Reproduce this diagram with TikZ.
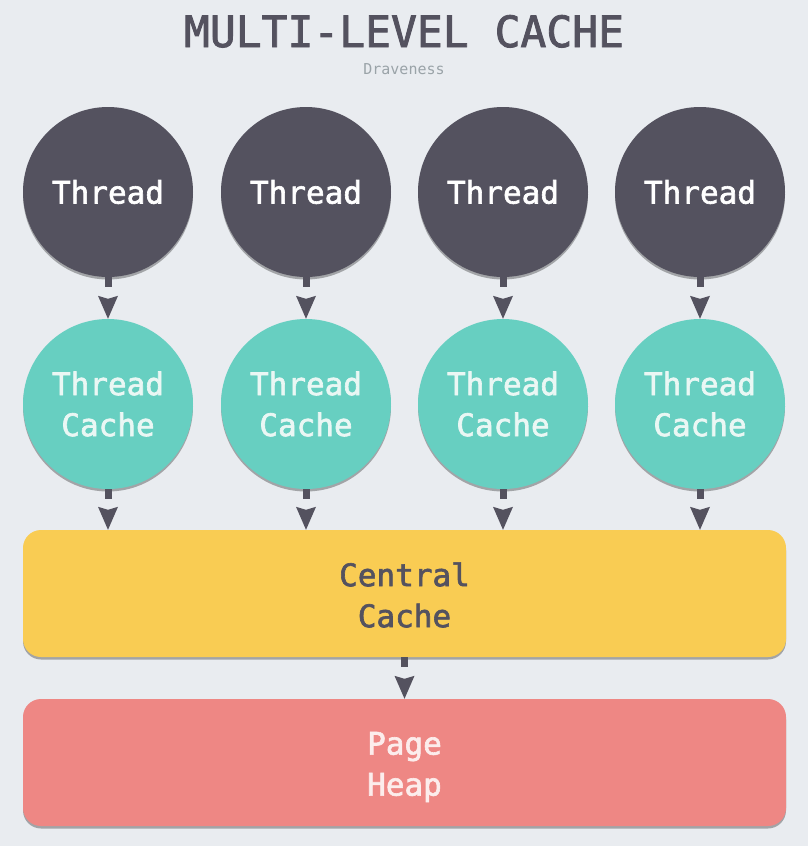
\documentclass[tikz,border=0pt]{standalone}
\usepackage{fontspec}
\setmonofont{DejaVu Sans Mono}[BoldFont=DejaVu Sans Mono, BoldFeatures={FakeBold=2}]
\usetikzlibrary{arrows.meta,shadows}

\definecolor{bgcol}{HTML}{E9ECF0}
\definecolor{inkcol}{HTML}{54525F}
\definecolor{tealcol}{HTML}{67CFC1}
\definecolor{yellowcol}{HTML}{F9CC53}
\definecolor{redcol}{HTML}{EE8784}
\definecolor{subcol}{HTML}{9AA3A8}
\definecolor{tealtext}{HTML}{EAF7F4}
\definecolor{redtext}{HTML}{FCEDEC}

\tikzset{
  softshadow/.style={drop shadow={shadow xshift=0pt, shadow yshift=-2.5pt, opacity=0.3, fill=black}},
  label/.style={font=\ttfamily\bfseries\fontsize{31}{41}\selectfont, align=center, inner sep=0pt},
  threadnode/.style={circle, minimum size=170pt, fill=inkcol, text=white, label, softshadow},
  cachenode/.style={circle, minimum size=170pt, fill=tealcol, text=tealtext, label, softshadow},
  boxnode/.style={rounded corners=18pt, minimum width=763pt, minimum height=127pt, softshadow},
  boxtext/.style={label},
  flow/.style={draw=inkcol, line width=7pt, dash pattern=on 10pt off 40pt,
    -{Stealth[length=23pt, width=20pt, inset=3pt, line width=0pt]}},
}

\begin{document}
\begin{tikzpicture}[x=1pt, y=-1pt]
  \fill[bgcol] (0,0) rectangle (808,846);
  \useasboundingbox (0,0) rectangle (808,846);

  \node[anchor=base, text=inkcol, font=\ttfamily\bfseries\fontsize{43}{43}\selectfont, inner sep=0pt]
    (title) at (404,47) {MULTI-LEVEL CACHE};
  \node[anchor=base, text=subcol, font=\ttfamily\fontsize{15}{15}\selectfont, inner sep=0pt]
    (author) at (404,74) {Draveness};

  % threads and their caches
  \foreach \i/\x in {1/108, 2/306, 3/503, 4/700} {
    \node[threadnode] (t\i) at (\x,192) {Thread};
    \node[cachenode] (c\i) at (\x,404) {Thread\\Cache};
  }

  \node[boxnode, fill=yellowcol] (central) at (404.5,593.5) {};
  \node[boxtext, text=inkcol] (centraltext) at (404.5,595) {Central\\Cache};
  \node[boxnode, fill=redcol] (heap) at (404.5,762.5) {};
  \node[boxtext, text=redtext] (heaptext) at (404.5,767) {Page\\Heap};

  \foreach \i in {1,...,4} {
    \draw[flow] (t\i.south) -- (c\i.north);
    \draw[flow] (c\i.south) -- (c\i.south |- central.north);
  }
  \draw[flow] (central.south) -- (heap.north);
\end{tikzpicture}
\end{document}
